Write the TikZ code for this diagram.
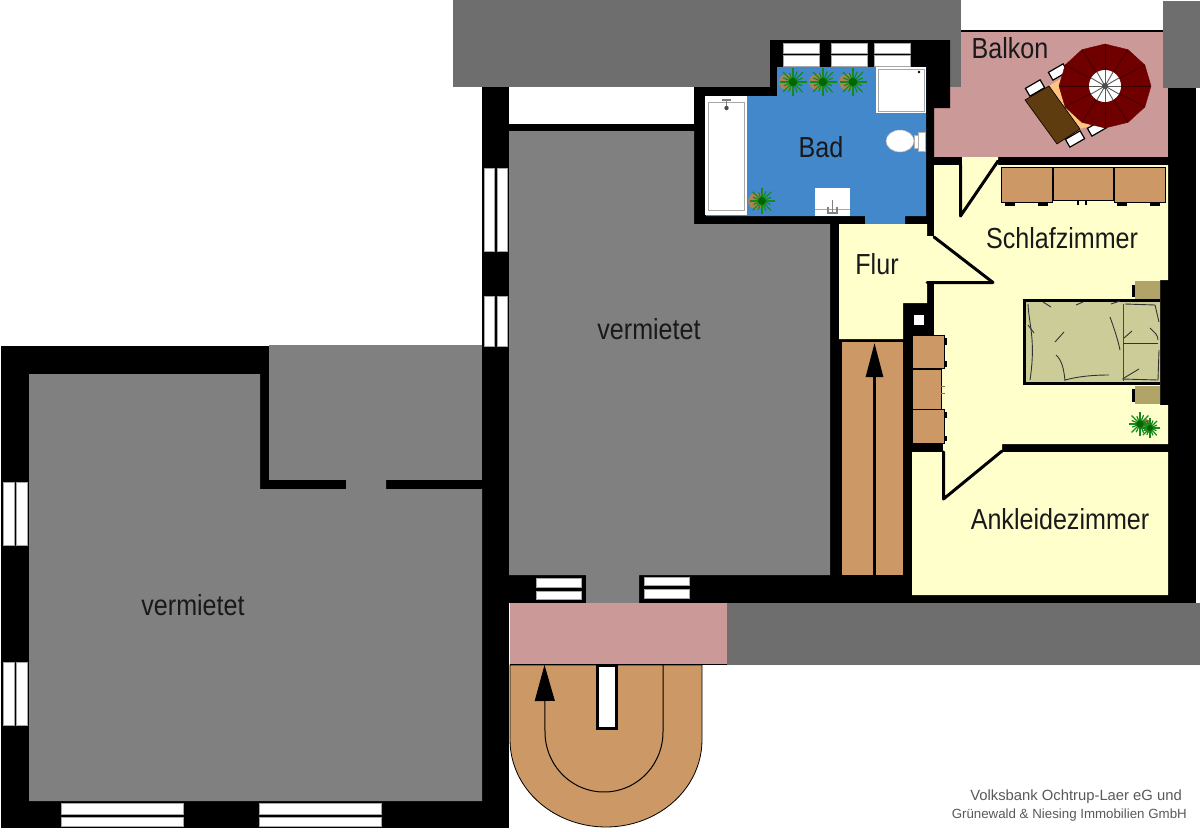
\documentclass[tikz,border=0pt]{standalone}
\usepackage{fontspec}
\setmainfont{Liberation Sans}
\newfontfamily\narrowfont[FakeStretch=0.865]{Liberation Sans}
\usetikzlibrary{arrows.meta, shapes.geometric}
\definecolor{roof}{HTML}{6E6E6E}
\definecolor{rented}{HTML}{808080}
\definecolor{terrace}{HTML}{CC9999}
\definecolor{bathblue}{HTML}{4488CC}
\definecolor{livecream}{HTML}{FFFFCC}
\definecolor{wood}{HTML}{CC9966}
\definecolor{tabletop}{HTML}{5F3B10}
\definecolor{tablecloth}{HTML}{FFC480}
\definecolor{parasol}{HTML}{700000}
\definecolor{bedcloth}{HTML}{CCCC99}
\definecolor{nightstand}{HTML}{B0A468}
\definecolor{leafgreen}{HTML}{128A1C}
\tikzset{wall/.style={fill=black},
         glass/.style={fill=white, draw=gray!70, line width=0.5pt},
         unit/.style={fill=wood, draw=black, line width=0.8pt},
         leaf/.style={draw=black, line width=3pt, line join=round, line cap=round},
         fixture/.style={fill=white, draw=gray!70, line width=1pt},
         chair/.style={draw=black, fill=white, line width=1.2pt, rotate=30, inner sep=0pt, minimum width=17pt, minimum height=9pt},
         crease/.style={draw=black!80, line width=0.9pt},
         roomlabel/.style={font=\narrowfont\fontsize{29}{29}\selectfont, text=black!90, inner sep=0pt},
         credit/.style={text=black!65, inner sep=0pt}}
\newcommand{\plantpot}[5]{% centre, pot offset, pot radius, leaf length
    \fill[wood!85!black] (#1+#3,#2) circle (#4);
    \foreach \a/\r in {0/1,22/.7,47/1,68/.8,90/1,115/.75,135/1,158/.7,180/.95,203/.75,225/1,248/.7,270/1,292/.8,315/1,338/.75}
        \draw[leafgreen, line width=1.2pt] (#1,#2) -- ++(\a:\r*#5) ;
    \fill[green!40!black] (#1,#2) circle (0.3*#5);
}
\begin{document}
\begin{tikzpicture}[x=1pt, y=-1pt, >=latex]
    \useasboundingbox (0,0) rectangle (1200,831);
    \fill[white] (0,0) rectangle (1200,831);

    % balcony and roofs
    \fill[terrace] (934,31) rectangle (1168,157);
    \draw[line width=1.5pt] (961,31) -- (1163,31);
    \fill[roof] (453,0) rectangle (961,87);
    \fill[roof] (1163,1) rectangle (1200,88);
    \fill[roof] (727,603) rectangle (1200,665);

    % black walls, the rooms are put on top
    \fill[wall] (1,346) rectangle (509,828);
    \fill[wall] (482,87) rectangle (509,346);
    \fill[wall] (509,124) rectangle (934,603);
    \fill[wall] (934,157) rectangle (1196,603);
    \fill[wall] (1168,88) rectangle (1196,157);
    \fill[wall] (694,124) -- (694,87) -- (770,87) -- (770,40) -- (950,40) -- (950,108) -- (934,108) -- (934,157) -- (934,240) -- (694,240) -- cycle;

    % rooms
    \fill[rented] (509,131) -- (694,131) -- (694,224) -- (830,224) -- (830,575) -- (639,575) -- (639,603) -- (586,603) -- (586,575) -- (509,575) -- cycle;
    \fill[rented] (29,374) -- (260,374) -- (260,489) -- (346,489) -- (346,480) -- (386,480) -- (386,489) -- (482,489) -- (482,801) -- (29,801) -- cycle;
    \fill[rented] (269,345) rectangle (482,480);
    \fill[bathblue] (777,67) -- (926,67) -- (926,216) -- (905,216) -- (905,224) -- (865,224) -- (865,216) -- (706,216) -- (706,96) -- (777,96) -- cycle;
    \fill[livecream] (839,224) -- (927,224) -- (927,236) -- (934,236) -- (934,165) -- (962,165) -- (962,157) -- (998,157) -- (998,165) -- (1168,165) -- (1168,280) -- (1160,280) -- (1160,405) -- (1168,405) -- (1168,444) -- (1002,444) -- (1002,452) -- (1168,452) -- (1168,595) -- (912,595) -- (912,452) -- (943,452) -- (943,443) -- (941,443) -- (941,335) -- (934,335) -- (934,283) -- (927,283) -- (927,303) -- (903,303) -- (903,339) -- (839,339) -- cycle;

    % windows
    \foreach \xa/\xb in {783/819,831/867,874/910} {
        \draw[glass] (\xa,43) rectangle (\xb,53);
        \draw[glass] (\xa,55.5) rectangle (\xb,66);
    }
    \foreach \ya/\yb in {168/251,296/346} {
        \draw[glass] (484,\ya) rectangle (494,\yb);
        \draw[glass] (497,\ya) rectangle (507,\yb);
    }
    \foreach \ya/\yb in {482/545,662/725} {
        \draw[glass] (3,\ya) rectangle (14,\yb);
        \draw[glass] (16.5,\ya) rectangle (27,\yb);
    }
    \foreach \xa/\xb in {61/183,259/381} {
        \draw[glass] (\xa,803) rectangle (\xb,814);
        \draw[glass] (\xa,817) rectangle (\xb,826);
    }
    \draw[glass] (536,578) rectangle (581,587);
    \draw[glass] (536,591) rectangle (581,599);
    \draw[glass] (644,577) rectangle (689,585);
    \draw[glass] (644,589) rectangle (689,598);
    \fill[white] (914,315) rectangle (924,325);

    % door leaves
    \draw[leaf] (960.5,165) -- (960.5,216) -- (998,161);
    \draw[leaf] (934,237) -- (993,282.5) -- (927,282.5);
    \draw[leaf] (943.5,452) -- (943.5,499) -- (1002,451);

    % bathroom
    \fill[white] (705,96) rectangle (747,215);
    \draw[fixture] (708,102) rectangle (744,210);
    \draw[gray, line width=1.5pt] (722,100) -- (731,100) (726.5,100) -- (726.5,106);
    \fill[black!70] (726.5,108) circle (2.2);
    \fill[white] (876,67) rectangle (926,113);
    \draw[fixture] (878,69) rectangle (924,111);
    \fill[black] (919,72) circle (1.3);
    \draw[fill=white, draw=gray!60, line width=0.5pt] (900,141) ellipse (14 and 11);
    \draw[fill=white, draw=gray!60, line width=0.5pt] (914,135) rectangle (918,148);
    \draw[fill=white, draw=gray!60, line width=0.5pt] (918,132) rectangle (925,151);
    \fill[white] (815,188) rectangle (850,216);
    \draw[gray!70, line width=1pt] (815,209) -- (850,209);
    \draw[gray, line width=1.5pt] (832.5,200) -- (832.5,213) (828,207) -- (828,213) -- (837,213) -- (837,207);
    \plantpot{793}{82}{-6}{8}{14}
    \plantpot{823}{82}{-6}{8}{14}
    \plantpot{853}{82}{-6}{8}{14}
    \plantpot{762}{201}{-6}{8}{13}

    % balcony furniture
    \node[chair] (chairone) at (1035,88) {};
    \node[chair] (chairtwo) at (1058,72) {};
    \node[chair] (chairthree) at (1075,139) {};
    \node[chair] (chairfour) at (1097,128) {};
    \fill[tablecloth] (1049,86) -- (1062,78) -- (1090,126) -- (1080,129) -- cycle;
    \draw[fill=tabletop, draw=black, line width=0.6pt] (1025,100) -- (1049,86) -- (1080,129) -- (1057,144) -- cycle;
    \draw[fill=parasol, draw=parasol] plot[samples at={0,30,...,330}] ({1105+46*cos(\x)},{86+42*sin(\x)}) -- cycle;
    \foreach \a in {0,30,...,330}
        \draw[black!45!parasol, line width=0.7pt] (1105,86) -- ({1105+46*cos(\a)},{86+42*sin(\a)});
    \fill[white] (1105,86) circle (16);
    \foreach \a in {0,30,...,330}
        \draw[gray!70!black, line width=0.9pt] (1105,86) -- ++({16*cos(\a)},{16*sin(\a)});
    \fill[black!70] (1105,86) circle (3);

    % wardrobes
    \draw[unit] (1001,167) rectangle (1052,202);
    \draw[unit] (1053,167) rectangle (1113,200);
    \draw[unit] (1114,167) rectangle (1165,202);
    \foreach \xa/\xb in {1005/1015,1038/1048,1117/1127,1150/1160}
        \fill[black] (\xa,203) rectangle (\xb,206);
    \foreach \xa/\xb in {1077/1079,1085/1087}
        \fill[black] (\xa,201) rectangle (\xb,205);
    \draw[unit] (912,335) rectangle (944,368);
    \draw[unit] (912,369) rectangle (941,409);
    \draw[unit] (912,409) rectangle (944,443);
    \foreach \ya/\yb in {338/345,361/367,412/418,436/441}
        \fill[black] (944,\ya) rectangle (947,\yb);
    \draw[wood!70!black, line width=0.8pt] (941,386) -- (945,386) (941,393) -- (945,393);

    % bed
    \fill[black] (1132,285) rectangle (1136,297);
    \fill[black] (1132,389) rectangle (1136,402);
    \fill[nightstand] (1135,281) rectangle (1160,299);
    \fill[nightstand] (1135,386) rectangle (1160,404);
    \fill[bedcloth] (1025,300) rectangle (1160,384);
    \draw[line width=3pt] (1160,300.5) -- (1024.5,300.5) -- (1024.5,383.5) -- (1160,383.5);
    \draw[black!50!brown, line width=1pt] (1123,304) -- (1123,381);
    \draw[crease] (1028,304) .. controls (1029,325) and (1036,340) .. (1030,380);
    \draw[crease] (1028,325) -- (1034,333);
    \draw[crease] (1055,342) -- (1064,332);
    \draw[crease] (1056,355) .. controls (1062,360) and (1064,370) .. (1065,381);
    \draw[crease] (1065,380) .. controls (1080,376) and (1095,375) .. (1109,375);
    \draw[crease] (1110,317) .. controls (1114,328) and (1118,340) .. (1120,350);
    \draw[crease] (1043,302) -- (1051,307);
    \draw[crease] (1076,305) -- (1083,302);
    \draw[crease] (1111,304) -- (1120,301);
    \draw[crease] (1123,343) -- (1158,343);
    \draw[crease] (1125,304) -- (1155,305) -- (1159,322);
    \draw[crease] (1124,338) -- (1132,331);
    \draw[crease] (1150,328) .. controls (1155,333) and (1158,335) .. (1158,340);
    \draw[crease] (1124,378) -- (1139,369);
    \draw[crease] (1122,379) -- (1158,380) -- (1159,350);
    \plantpot{1140}{424}{6}{5}{12}
    \plantpot{1150}{428}{-2}{4}{10}

    % stairs
    \fill[wood] (842,342) rectangle (903,575);
    \coordinate (stairfoot) at (874.5,575);
    \coordinate (stairhead) at (874.5,343);
    \draw[-{Triangle[length=34pt,width=17pt]}, line width=2.8pt] (stairfoot) -- (stairhead);

    % entrance
    \fill[terrace] (510,603) rectangle (727,664);
    \draw[fill=wood, draw=black, line width=0.8pt] (510,665) -- (702,665) -- (702,740) -- plot[domain=0:180, samples=50] ({606+96*cos(\x)},{740+87*sin(\x)}) -- cycle;
    \draw[line width=1.5pt] (510,664.5) -- (727,664.5);
    \draw[line width=3pt, fill=white] (597.5,665) rectangle (616.5,728);
    \coordinate (entrystart) at (663,665);
    \coordinate (entryend) at (544.5,665);
    \draw[-{Triangle[length=36pt,width=20pt]}, line width=1pt] (entrystart) -- (663,732) -- plot[domain=0:180, samples=50] ({604+59*cos(\x)},{732+60*sin(\x)}) -- (entryend);

    % labels
    \node[roomlabel] (bad) at (821,147) {Bad};
    \node[roomlabel] (balkon) at (1010,48) {Balkon};
    \node[roomlabel] (schlafzimmer) at (1062,238) {Schlafzimmer};
    \node[roomlabel] (flur) at (877,264) {Flur};
    \node[roomlabel] (vermietetmid) at (649,329) {vermietet};
    \node[roomlabel] (vermietetleft) at (193,605) {vermietet};
    \node[roomlabel] (ankleide) at (1060,519) {Ankleidezimmer};
    \node[credit, anchor=east, font=\fontsize{14.8}{15}\selectfont] (creditone) at (1182,797) {Volksbank Ochtrup-Laer eG und};
    \node[credit, anchor=east, font=\fontsize{13.3}{14}\selectfont] (credittwo) at (1187,815) {Grünewald \& Niesing Immobilien GmbH};
\end{tikzpicture}
\end{document}
